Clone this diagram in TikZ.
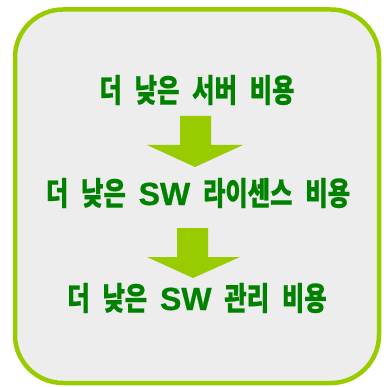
\documentclass[tikz,border=0pt]{standalone}
\usepackage{fontspec}
\newfontfamily\krfont[WordSpace=2.3, FakeStretch=0.76, FakeBold=0.5]{Noto Sans CJK KR}
\newfontfamily\latinbold[FakeBold=0.8]{Liberation Sans}
\definecolor{lime}{RGB}{153,204,0}
\definecolor{textgreen}{RGB}{0,130,0}
\definecolor{panel}{RGB}{237,237,237}
\newcommand{\sw}{{\latinbold\bfseries\fontsize{32}{36}\selectfont SW}}

\begin{document}
\begin{tikzpicture}[x=1pt, y=-1pt,
		cost/.style={text=textgreen, font=\krfont\bfseries\fontsize{32}{36}\selectfont, inner sep=0pt, anchor=base}]
		\useasboundingbox (0, 0) rectangle (387, 387);

		% panel
		\draw[lime, line width=4.5pt, fill=panel, rounded corners=48pt] (15, 9.5) rectangle (379, 383);

		% lines of text
		\node[cost] (cost1) at (197, 102) {더 낮은 서버 비용};
		\node[cost] (cost2) at (198, 205) {더 낮은 \sw{} 라이센스 비용};
		\node[cost] (cost3) at (197, 310) {더 낮은 \sw{} 관리 비용};

		% block arrows
		\fill[lime] (180, 116) -- (211, 116) -- (211, 145) -- (243, 145) -- (195, 167) -- (147, 145) -- (180, 145) -- cycle;
		\fill[lime] (177, 228) -- (208, 228) -- (208, 257) -- (240, 257) -- (193, 278) -- (147, 257) -- (177, 257) -- cycle;

	\end{tikzpicture}
\end{document}
